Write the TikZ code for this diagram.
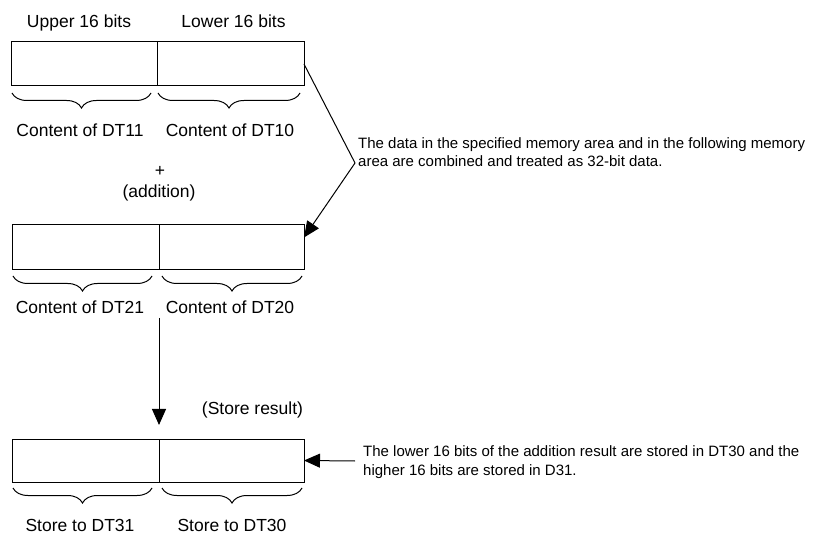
\documentclass[tikz,border=0pt]{standalone}
\usepackage{fontspec}
\setmainfont{Liberation Sans}
\usetikzlibrary{arrows.meta,decorations.pathreplacing,calc}
\begin{document}
\begin{tikzpicture}[x=1pt,y=-1pt,
  cell/.style={draw,line width=1pt,inner sep=0,outer sep=0,anchor=north west},
  lbl/.style={font=\fontsize{17.5}{21}\selectfont,inner sep=0,anchor=base},
  note/.style={font=\fontsize{15}{18.3}\selectfont,align=left,anchor=west,inner sep=0},
  brc/.style={decorate,decoration={brace,mirror,amplitude=15pt},line width=1pt},
  conn/.style={line width=1pt},
  arr/.style={line width=1pt,-{Triangle[length=16pt,width=14pt]}}]
\useasboundingbox (0,0) rectangle (822,534);
% top register
\node[cell,minimum width=146pt,minimum height=44pt] (t1) at (11.5,42) {};
\node[cell,minimum width=146.5pt,minimum height=44pt] (t2) at (157.5,42) {};
\node[lbl] (tu) at (79,28) {Upper 16 bits};
\node[lbl] (tl) at (233.5,28) {Lower 16 bits};
\draw[brc] (12,93) -- (151,93);
\draw[brc] (158,93) -- (300,93);
\node[lbl] (c11) at (80,137) {Content of DT11};
\node[lbl] (c10) at (230,137) {Content of DT10};
\node[lbl,anchor=center] (plus) at (160,171) {+};
\node[lbl,anchor=center] (add) at (159,193) {(addition)};
% middle register
\node[cell,minimum width=147pt,minimum height=45pt] (m1) at (12,225) {};
\node[cell,minimum width=145pt,minimum height=45pt] (m2) at (159,225) {};
\draw[brc] (13,276) -- (152,276);
\draw[brc] (162,276) -- (302,276);
\node[lbl] (c21) at (80,314) {Content of DT21};
\node[lbl] (c20) at (230,314) {Content of DT20};
% bottom register
\node[cell,minimum width=147pt,minimum height=43pt] (b1) at (12,439) {};
\node[cell,minimum width=145pt,minimum height=43pt] (b2) at (159,439) {};
\draw[brc] (13,488) -- (152,488);
\draw[brc] (162,488) -- (302,488);
\node[lbl] (s31) at (80,531) {Store to DT31};
\node[lbl] (s30) at (232,531) {Store to DT30};
\node[lbl] (sr) at (252.5,415) {(Store result)};
% annotations
\node[note] (n1) at (358,152) {The data in the specified memory area and in the following memory\\area are combined and treated as 32-bit data.};
\node[note] (n2) at (363,462) {The lower 16 bits of the addition result are stored in DT30 and the\\higher 16 bits are stored in D31.};
% connectors
\coordinate (v) at (355,163);
\coordinate (a) at (159,318);
\coordinate (h) at (355,461);
\draw[conn] (t2.east) -- (v);
\draw[arr] (v) -- ([yshift=10pt]m2.east);
\draw[arr] (a) -- ([yshift=14pt]m1.south east |- b1.north east);
\draw[arr] (h) -- (b2.east);
\end{tikzpicture}
\end{document}
